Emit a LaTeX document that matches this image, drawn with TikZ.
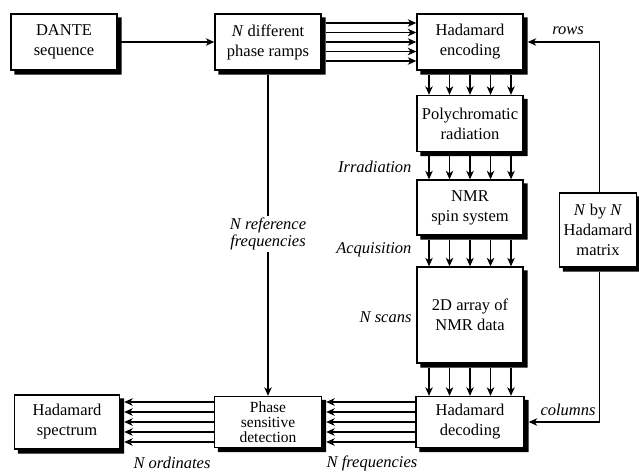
\documentclass[tikz,border=0pt]{standalone}
\usepackage{fontspec}
\setmainfont{Liberation Serif}
\usetikzlibrary{shapes,arrows.meta,positioning,calc}

\begin{document}
\begin{tikzpicture}[x=1pt,y=-1pt,line width=1.1pt,
	font=\fontsize{16.5}{20}\selectfont,
	>={Stealth[length=8.5pt,width=7.5pt,inset=2.5pt]},
	box/.style={draw,fill=white,line width=1.4pt,align=center,inner sep=0pt,
		minimum width=106pt,minimum height=56pt},
	lab/.style={font=\fontsize{16.5}{17}\selectfont\itshape,inner sep=1pt}]
	\useasboundingbox (0,0) rectangle (639,472);
	\node[box] (dante) at (64,42) {DANTE\\sequence};
	\node[box] (ramps) at (268,42) {\textit{N} different\\phase ramps};
	\node[box] (enc) at (470,42) {Hadamard\\encoding};
	\node[box] (poly) at (470,123.5) {Polychromatic\\radiation};
	\node[box,minimum height=55pt] (nmr) at (470,207.5) {NMR\\spin system};
	\node[box,minimum height=96pt] (data) at (470,315) {2D array of\\NMR data};
	\node[box,minimum height=51pt,minimum width=108pt] (dec) at (470,422) {Hadamard\\decoding};
	\node[box,minimum height=51pt,minimum width=107pt,
		font=\fontsize{15.5}{15}\selectfont] (phase) at (268,422) {Phase\\sensitive\\detection};
	\node[box,minimum height=54pt,minimum width=105pt] (spec) at (67,422) {Hadamard\\spectrum};
	\node[box,minimum width=77pt,minimum height=74pt] (mat) at (598,230) {\textit{N} by \textit{N}\\Hadamard\\matrix};
	\node[lab,align=center] (reflab) at (268,234) {N reference\\frequencies};
	\node[lab,anchor=east] (irr) at (413,167) {Irradiation};
	\node[lab,anchor=east] (acq) at (413,250) {Acquisition};
	\node[lab,anchor=east] (scans) at (413,317) {N scans};
	\node[lab] (ord) at (172,463) {N ordinates};
	\node[lab] (freq) at (372,463) {N frequencies};
	\node[lab] (rowslab) at (568,31) {rows};
	\node[lab] (collab) at (568,410) {columns};
	\foreach \bx in {dante,ramps,enc,poly,nmr,data,dec,phase,spec,mat}
		\path[fill=black] let \p1=(\bx.south west), \p2=(\bx.north east) in
			(\x2,\y2-4pt) -- (\x2+4pt,\y2-4pt) -- (\x2+4pt,\y1-4pt)
			-- (\x1+4pt,\y1-4pt) -- (\x1+4pt,\y1) -- (\x2,\y1) -- cycle;
	\draw[->] (dante) -- (ramps);
	\foreach \d in {-19pt,-9.5pt,0pt,9.5pt,19pt}
		\draw[->] ([xshift=4pt,yshift=\d]ramps.east) -- ([yshift=\d]enc.west);
	\foreach \a/\b in {enc/poly,poly/nmr,nmr/data,data/dec}
		\foreach \d in {-41pt,-20.5pt,0pt,20.5pt,41pt}
			\draw[->] ([xshift=\d,yshift=-4pt]\a.south) -- ([xshift=\d]\b.north);
	\foreach \d in {-20pt,-10pt,0pt,10pt,20pt}{
		\draw[->] ([yshift=\d]dec.west) -- ([xshift=4pt,yshift=\d]phase.east);
		\draw[->] ([yshift=\d]phase.west) -- ([xshift=4pt,yshift=\d]spec.east);
	}
	\draw[->] ([xshift=1.5pt]mat.north) |- ([xshift=4pt]enc.east);
	\draw[->] ([xshift=1.5pt,yshift=-4pt]mat.south) |- ([xshift=4pt]dec.east);
	\draw ([yshift=-4pt]ramps.south) -- (reflab.north);
	\draw[->] (reflab.south) -- (phase.north);
\end{tikzpicture}
\end{document}
